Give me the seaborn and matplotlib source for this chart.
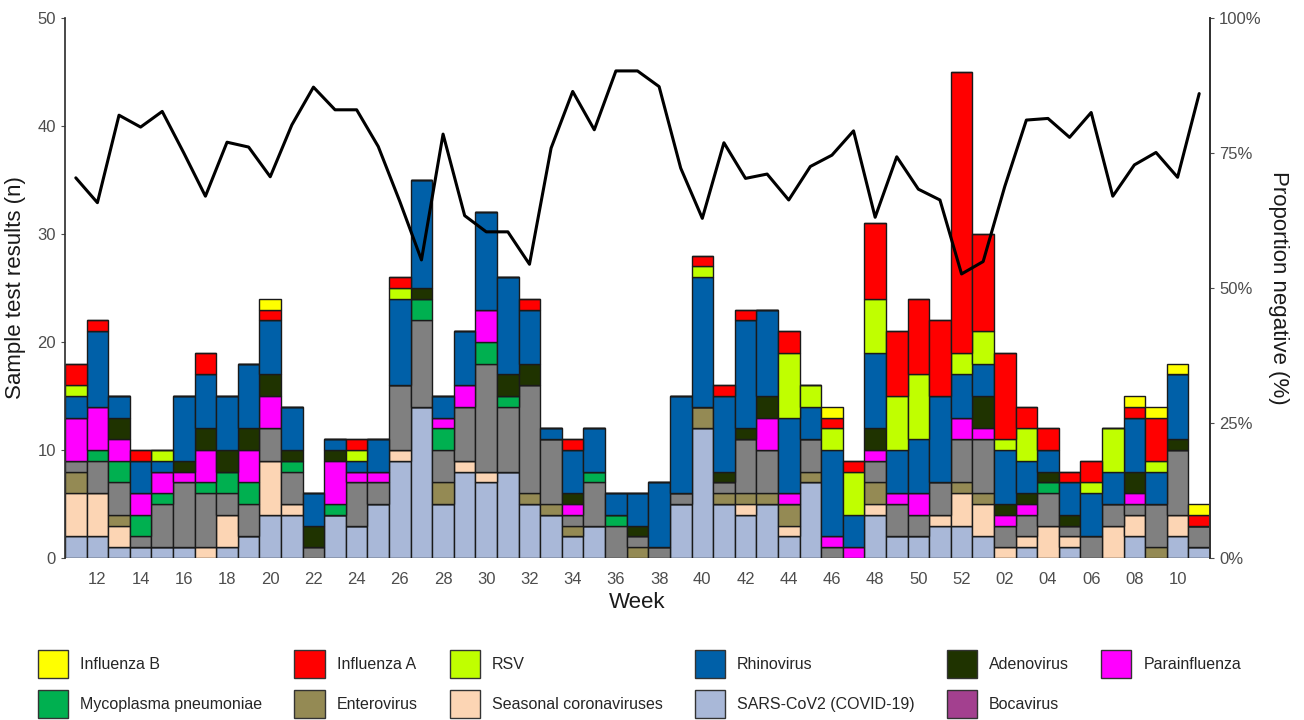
import matplotlib
matplotlib.use("Agg")  # no display, only write the png

import matplotlib.pyplot as plt
from matplotlib.patches import Patch
import seaborn as sns
import pandas as pd

weeks = ["11", "12", "13", "14", "15", "16", "17", "18", "19", "20", "21", "22", "23", "24",
         "25", "26", "27", "28", "29", "30", "31", "32", "33", "34", "35", "36", "37", "38",
         "39", "40", "41", "42", "43", "44", "45", "46", "47", "48", "49", "50", "51", "52",
         "01", "02", "03", "04", "05", "06", "07", "08", "09", "10", "11"]

# counts per week, stacked bottom -> top in this order
sars_cov2 = [2, 2, 1, 1, 1, 1, 0, 1, 2, 4, 4, 0, 4, 3, 5, 9, 14, 5, 8, 7, 8, 5, 4, 2, 3, 0, 0,
             0, 5, 12, 5, 4, 5, 2, 7, 0, 0, 4, 2, 2, 3, 3, 2, 0, 1, 0, 1, 0, 0, 2, 0, 2, 1]
seasonal_cov = [4, 4, 2, 0, 0, 0, 1, 3, 0, 5, 1, 0, 0, 0, 0, 1, 0, 0, 1, 1, 0, 0, 0, 0, 0, 0, 0,
                0, 0, 0, 0, 1, 0, 1, 0, 0, 0, 1, 0, 0, 1, 3, 3, 1, 1, 3, 1, 0, 3, 2, 0, 2, 0]
enterovirus = [2, 0, 1, 0, 0, 0, 0, 0, 0, 0, 0, 0, 0, 0, 0, 0, 0, 2, 0, 0, 0, 1, 1, 1, 0, 0, 1,
               0, 0, 2, 1, 1, 1, 2, 1, 0, 0, 2, 0, 0, 0, 1, 1, 0, 0, 0, 0, 0, 0, 0, 1, 0, 0]
other = [1, 3, 3, 1, 4, 6, 5, 2, 3, 3, 3, 1, 0, 4, 2, 6, 8, 3, 5, 10, 6, 10, 6, 1, 4, 3, 1,
         1, 1, 0, 1, 5, 4, 0, 3, 1, 0, 2, 3, 2, 3, 4, 5, 2, 2, 3, 1, 2, 2, 1, 4, 6, 2]
mycoplasma = [0, 1, 2, 2, 1, 0, 1, 2, 2, 0, 1, 0, 1, 0, 0, 0, 2, 2, 0, 2, 1, 0, 0, 0, 1, 1, 0,
              0, 0, 0, 0, 0, 0, 0, 0, 0, 0, 0, 0, 0, 0, 0, 0, 0, 0, 1, 0, 0, 0, 0, 0, 0, 0]
parainfluenza = [4, 4, 2, 2, 2, 1, 3, 0, 3, 3, 0, 0, 4, 1, 1, 0, 0, 1, 2, 3, 0, 0, 0, 1, 0, 0, 0,
                 0, 0, 0, 0, 0, 3, 1, 0, 1, 1, 1, 1, 2, 0, 2, 1, 1, 1, 0, 0, 0, 0, 1, 0, 0, 0]
adenovirus = [0, 0, 2, 0, 0, 1, 2, 2, 2, 2, 1, 2, 1, 0, 0, 0, 1, 0, 0, 0, 2, 2, 0, 1, 0, 0, 1,
              0, 0, 0, 1, 1, 2, 0, 0, 0, 0, 2, 0, 0, 0, 0, 3, 1, 1, 1, 1, 0, 0, 2, 0, 1, 0]
rhinovirus = [2, 7, 2, 3, 1, 6, 5, 5, 6, 5, 4, 3, 1, 1, 3, 8, 10, 2, 5, 9, 9, 5, 1, 4, 4, 2, 3,
              6, 9, 12, 7, 10, 8, 7, 3, 8, 3, 7, 4, 5, 8, 4, 3, 5, 3, 2, 3, 4, 3, 5, 3, 6, 0]
rsv = [1, 0, 0, 0, 1, 0, 0, 0, 0, 0, 0, 0, 0, 1, 0, 1, 0, 0, 0, 0, 0, 0, 0, 0, 0, 0, 0,
       0, 0, 1, 0, 0, 0, 6, 2, 2, 4, 5, 5, 6, 0, 2, 3, 1, 3, 0, 0, 1, 4, 0, 1, 0, 0]
influenza_a = [2, 1, 0, 1, 0, 0, 2, 0, 0, 1, 0, 0, 0, 1, 0, 1, 0, 0, 0, 0, 0, 1, 0, 1, 0, 0, 0,
               0, 0, 1, 1, 1, 0, 2, 0, 1, 1, 7, 6, 7, 7, 26, 9, 8, 2, 2, 1, 2, 0, 1, 4, 0, 1]
influenza_b = [0, 0, 0, 0, 0, 0, 0, 0, 0, 1, 0, 0, 0, 0, 0, 0, 0, 0, 0, 0, 0, 0, 0, 0, 0, 0, 0,
               0, 0, 0, 0, 0, 0, 0, 0, 1, 0, 0, 0, 0, 0, 0, 0, 0, 0, 0, 0, 0, 0, 1, 1, 1, 1]
bocavirus = [0] * 53

# proportion of negative samples per week (%)
negative_pct = [70.4, 65.8, 82.0, 79.8, 82.7, 75.0, 67.0, 77.0, 76.1, 70.6, 80.2, 87.2, 83.0, 83.0,
                76.2, 66.0, 55.2, 78.5, 63.4, 60.4, 60.4, 54.4, 75.9, 86.4, 79.3, 90.2, 90.2, 87.3,
                72.2, 62.9, 76.9, 70.3, 71.1, 66.3, 72.5, 74.6, 79.1, 63.1, 74.3, 68.3, 66.3, 52.6,
                54.9, 68.8, 81.1, 81.4, 77.9, 82.5, 67.0, 72.8, 75.1, 70.5, 86.0]

series = {
    "SARS-CoV2 (COVID-19)": sars_cov2,
    "Bocavirus": bocavirus,
    "Seasonal coronaviruses": seasonal_cov,
    "Enterovirus": enterovirus,
    "Other": other,
    "Mycoplasma pneumoniae": mycoplasma,
    "Parainfluenza": parainfluenza,
    "Adenovirus": adenovirus,
    "Rhinovirus": rhinovirus,
    "RSV": rsv,
    "Influenza A": influenza_a,
    "Influenza B": influenza_b,
}

colors = {
    "Influenza B": "#FFFF00",
    "Influenza A": "#FF0000",
    "RSV": "#C0FF00",
    "Rhinovirus": "#0060A8",
    "Adenovirus": "#1F3300",
    "Parainfluenza": "#FF00FF",
    "Mycoplasma pneumoniae": "#00B050",
    "Enterovirus": "#948A54",
    "Seasonal coronaviruses": "#FCD5B4",
    "SARS-CoV2 (COVID-19)": "#A9B8D8",
    "Bocavirus": "#A3408F",
    "Other": "#808080",
}

# column-major order so the 6-column legend reads row by row like the original
legend_order = ["Influenza B", "Mycoplasma pneumoniae", "Influenza A", "Enterovirus", "RSV",
                "Seasonal coronaviruses", "Rhinovirus", "SARS-CoV2 (COVID-19)", "Adenovirus",
                "Bocavirus", "Parainfluenza"]

df = pd.DataFrame(series)
df["week"] = weeks
df["pos"] = range(len(weeks))

sns.set_theme(style="white")
plt.rcParams["font.family"] = ["Liberation Sans", "DejaVu Sans"]

fig = plt.figure(figsize=(13.04, 7.2), dpi=100)
ax = fig.add_axes([65 / 1304, 1 - 558 / 720, (1210 - 65) / 1304, (558 - 18) / 720])

bottom = pd.Series(0, index=df.index, dtype=float)
for name in series:
    ax.bar(df["pos"], df[name], bottom=bottom, width=1.0, color=colors[name],
           edgecolor="#1a1a1a", linewidth=1.0)
    bottom = bottom + df[name]

ax.set_xlim(-0.5, len(weeks) - 0.5)
ax.set_ylim(0, 50)
ax.set_yticks([0, 10, 20, 30, 40, 50])
tick_pos = [p for p, w in zip(df["pos"], weeks) if int(w) % 2 == 0]
tick_lab = [w for w in weeks if int(w) % 2 == 0]
ax.set_xticks(tick_pos)
ax.set_xticklabels(tick_lab)
ax.set_xlabel("Week", fontsize=16, color="#1a1a1a", labelpad=4)
ax.set_ylabel("Sample test results (n)", fontsize=16, color="#1a1a1a", labelpad=8)
ax.tick_params(axis="both", labelsize=12, colors="#4d4d4d", length=3, width=0.8)
ax.tick_params(axis="x", length=0, pad=10)
for side in ["top", "bottom"]:
    ax.spines[side].set_visible(False)
ax.spines["left"].set_color("#333333")

ax2 = ax.twinx()
sns.lineplot(x=df["pos"], y=negative_pct, ax=ax2, color="black", linewidth=2.2)
ax2.set_ylim(0, 100)
ax2.set_yticks([0, 25, 50, 75, 100])
ax2.set_yticklabels(["0%", "25%", "50%", "75%", "100%"])
ax2.set_ylabel("Proportion negative (%)", fontsize=16, color="#1a1a1a", rotation=270, labelpad=20)
ax2.tick_params(axis="y", labelsize=12, colors="#4d4d4d", length=3, width=0.8)
for side in ["top", "bottom", "left"]:
    ax2.spines[side].set_visible(False)
ax2.spines["right"].set_visible(True)
ax2.spines["right"].set_color("#333333")
ax2.grid(False)
ax.grid(False)

handles = [Patch(facecolor=colors[n], edgecolor="#333333", linewidth=1.0) for n in legend_order]
fig.legend(handles, legend_order, loc="upper left", bbox_to_anchor=(30 / 1304, 1 - 642 / 720),
           ncol=6, frameon=False, fontsize=11.5, handlelength=1.9, handleheight=2.3,
           handletextpad=0.75, labelspacing=0.75, columnspacing=2.0, borderpad=0)

fig.savefig("out.png", dpi=100)
plt.close(fig)
